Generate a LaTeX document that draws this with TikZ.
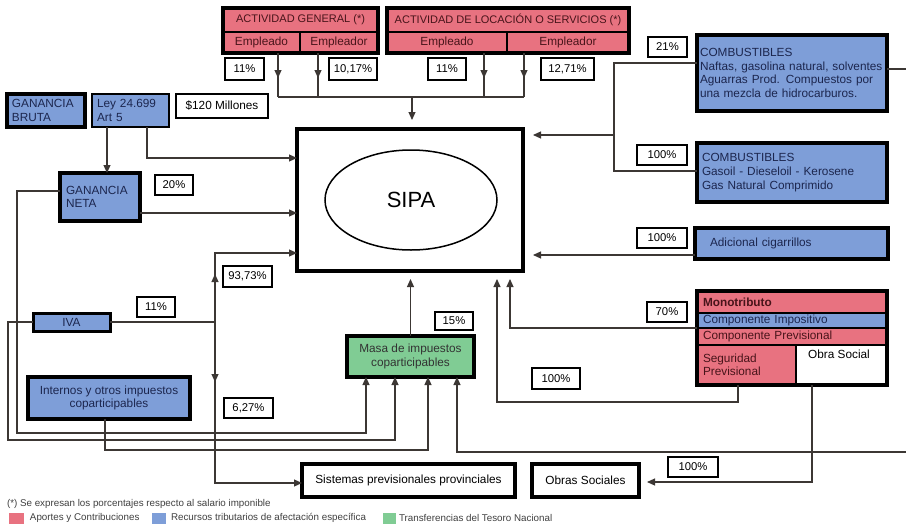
\documentclass[tikz,border=0pt]{standalone}
\usepackage{fontspec}
\setmainfont{Liberation Sans}
\usetikzlibrary{arrows.meta,shapes.geometric,decorations.markings}
\definecolor{pinkc}{RGB}{232,114,128}
\definecolor{bluec}{RGB}{126,158,216}
\definecolor{greenc}{RGB}{128,204,148}
\definecolor{linec}{RGB}{60,55,52}
\definecolor{navytxt}{RGB}{28,38,78}
\definecolor{redtxt}{RGB}{72,20,26}
\begin{document}
\begin{tikzpicture}[x=1pt,y=-1pt,
  every node/.style={font=\fontsize{11.8}{13.5}\selectfont, inner sep=0pt, outer sep=0pt},
  heavybox/.style={draw=black, line width=3.5pt, rectangle},
  lightbox/.style={draw=black, line width=1.6pt, rectangle},
  sep/.style={draw=black, line width=1.4pt},
  pct/.style={draw=black, line width=1.8pt, fill=white, rectangle, font=\fontsize{11.3}{13}\selectfont},
  conn/.style={draw=linec, line width=1.15pt},
  arr/.style={conn, -{Triangle[length=8pt,width=7pt]}},
  midtip/.style={postaction={decorate}, decoration={markings, mark=at position #1 with {\arrow{Triangle[length=8pt,width=7pt]}}}},
  pinkcell/.style={fill=pinkc, text=redtxt},
  bluecell/.style={fill=bluec, text=navytxt},
]
\useasboundingbox (0,0) rectangle (906,523);
\fill[white] (0,0) rectangle (906,523);

% ---------- top boxes ----------
\node[pinkcell, minimum width=155, minimum height=24, font=\fontsize{11}{13}\selectfont] (agh) at (300.5,20) {ACTIVIDAD GENERAL (*)};
\node[pinkcell, minimum width=77, minimum height=21] (age) at (261.5,42.5) {Empleado};
\node[pinkcell, minimum width=78, minimum height=21] (agr) at (339,42.5) {Empleador};
\draw[sep] (agh.south west) -- (agh.south east);
\draw[sep] (age.north east) -- (age.south east);
\draw[heavybox] (agh.north west) rectangle (agr.south east);

\node[pinkcell, minimum width=242, minimum height=24, font=\fontsize{11}{13}\selectfont] (alh) at (508,20) {ACTIVIDAD DE LOCACIÓN O SERVICIOS (*)};
\node[pinkcell, minimum width=120, minimum height=21] (ale) at (447,42.5) {Empleado};
\node[pinkcell, minimum width=122, minimum height=21] (alr) at (568,42.5) {Empleador};
\draw[sep] (alh.south west) -- (alh.south east);
\draw[sep] (ale.north east) -- (ale.south east);
\draw[heavybox] (alh.north west) rectangle (alr.south east);

\node[pct, minimum width=39, minimum height=22] (p1) at (244.5,69) {11\%};
\node[pct, minimum width=48, minimum height=22] (p2) at (353,69) {10,17\%};
\node[pct, minimum width=38, minimum height=22] (p3) at (447,69) {11\%};
\node[pct, minimum width=53, minimum height=22] (p4) at (567.5,69) {12,71\%};

% ---------- SIPA ----------
\node[heavybox, minimum width=226, minimum height=142] (sipa) at (410,200) {};
\node[draw=black, line width=1.5pt, ellipse, minimum width=172, minimum height=100, font=\fontsize{22}{26}\selectfont] (ell) at (411,200) {SIPA};

% ---------- left side ----------
\node[heavybox, bluecell, minimum width=78, minimum height=33, text width=68, align=left] (gb) at (46,110.5) {GANANCIA\\BRUTA};
\node[lightbox, bluecell, minimum width=77, minimum height=33, text width=67, align=left] (ley) at (130.5,110.5) {Ley 24.699\\Art 5};
\node[lightbox, line width=2pt, minimum width=92, minimum height=24] (mill) at (222,106) {\$120 Millones};
\node[heavybox, bluecell, minimum width=80, minimum height=48, text width=68, align=left] (gn) at (100,197) {GANANCIA\\NETA};
\node[pct, minimum width=38, minimum height=20] (p20) at (174,185) {20\%};
\node[heavybox, line width=3pt, bluecell, minimum width=77, minimum height=18] (iva) at (71.5,322) {IVA};
\node[pct, minimum width=38, minimum height=20] (p11b) at (156,307) {11\%};
\node[pct, minimum width=49, minimum height=21] (p9373) at (247.5,276.5) {93,73\%};
\node[pct, minimum width=49, minimum height=20] (p627) at (248.5,408) {6,27\%};
\node[heavybox, bluecell, minimum width=162, minimum height=42, align=center] (int) at (109,398) {Internos y otros impuestos\\coparticipables};

% ---------- centre bottom ----------
\node[heavybox, fill=greenc, text=black!80, minimum width=127, minimum height=41, align=center] (masa) at (410.5,356.5) {Masa de impuestos\\coparticipables};
\node[pct, minimum width=38, minimum height=18] (p15) at (454,321) {15\%};
\node[heavybox, minimum width=213, minimum height=33] (sist) at (408.5,480.5) {Sistemas previsionales provinciales};
\node[heavybox, minimum width=107, minimum height=33] (obras) at (585.5,480.5) {Obras Sociales};
\node[pct, minimum width=50, minimum height=20] (p100c) at (693,467) {100\%};

% ---------- right side ----------
\node[heavybox, bluecell, minimum width=190, minimum height=76, text width=184, align=left, font=\fontsize{11.8}{13.8}\selectfont] (c1) at (792,73) {COMBUSTIBLES\\Naftas, gasolina natural, solventes\\Aguarras Prod. Compuestos por\\una mezcla de hidrocarburos.};
\node[pct, minimum width=39, minimum height=20] (p21) at (667.5,47) {21\%};
\node[heavybox, bluecell, minimum width=190, minimum height=59, text width=180, align=left, font=\fontsize{11.8}{13.8}\selectfont] (c2) at (792,172.5) {COMBUSTIBLES\\Gasoil - Dieseloil - Kerosene\\Gas Natural Comprimido};
\node[pct, minimum width=50, minimum height=20] (p100a) at (662,155) {100\%};
\node[heavybox, bluecell, minimum width=193, minimum height=31, text width=163, align=left] (adic) at (791.5,243.5) {Adicional cigarrillos};
\node[pct, minimum width=50, minimum height=20] (p100b) at (662,238) {100\%};

% Monotributo
\node[pinkcell, minimum width=190, minimum height=22, text width=178, align=left] (monoh) at (792,302) {\textbf{Monotributo}};
\node[bluecell, minimum width=190, minimum height=15, text width=178, align=left] (monoi) at (792,320.5) {Componente Impositivo};
\node[pinkcell, minimum width=190, minimum height=17, text width=178, align=left] (monop) at (792,336.5) {Componente Previsional};
\node[pinkcell, minimum width=99, minimum height=40, text width=87, align=left] (monos) at (746.5,365) {Seguridad\\Previsional};
\node[fill=white, minimum width=91, minimum height=40] (monoo) at (841.5,365) {};
\node[anchor=north] (monoot) at (839,350) {Obra Social};
\draw[sep, line width=1.1pt] (monoh.south west) -- (monoh.south east);
\draw[sep, line width=1.1pt] (monoi.south west) -- (monoi.south east);
\draw[sep, line width=2pt] (monop.south west) -- (monop.south east);
\draw[sep, line width=2pt] (monos.north east) -- (monos.south east);
\draw[heavybox] (monoh.north west) rectangle (monoo.south east);
\node[pct, minimum width=40, minimum height=20] (p70) at (667,312) {70\%};
\node[pct, minimum width=48, minimum height=21] (p100d) at (556,378.5) {100\%};

% ---------- connectors: top ----------
\coordinate (bus1) at (278,97);
\coordinate (bus2) at (318,97);
\coordinate (bus3) at (484,97);
\coordinate (bus4) at (524,97);
\coordinate (busm) at (412,97);
\draw[conn, midtip=25pt] (age.south -| bus1) -- (bus1);
\draw[conn, midtip=25pt] (agr.south -| bus2) -- (bus2);
\draw[conn, midtip=25pt] (ale.south -| bus3) -- (bus3);
\draw[conn, midtip=25pt] (alr.south -| bus4) -- (bus4);
\draw[conn] (bus1) -- (bus4);
\draw[arr, shorten >=9pt] (busm) -- (sipa.north -| busm);

% ---------- connectors: left ----------
\coordinate (lx) at (107,127);
\draw[arr] (ley.south -| lx) -- (gn.north -| lx);
\coordinate (lc) at (147,158);
\draw[arr] (ley.south -| lc) -- (lc) -- (sipa.west |- lc);
\coordinate (gy) at (200,213);
\draw[arr] (gn.east |- gy) -- (sipa.west |- gy);
\coordinate (g1) at (17,191);
\coordinate (g2) at (17,433);
\coordinate (g3) at (366,433);
\draw[arr] (gn.west |- g1) -- (g1) -- (g2) -- (g3) -- (masa.south -| g3);
\coordinate (i1) at (8,322);
\coordinate (i2) at (8,440);
\coordinate (i3) at (395,440);
\draw[arr] (iva.west) -- (i1) -- (i2) -- (i3) -- (masa.south -| i3);
\coordinate (n1) at (105,450);
\coordinate (n2) at (428,450);
\draw[arr] (int.south -| n1) -- (n1) -- (n2) -- (masa.south -| n2);
\coordinate (v) at (215,322);
\coordinate (vt) at (215,253);
\coordinate (vb) at (215,483);
\draw[conn] (iva.east) -- (v);
\draw[arr, midtip=48pt] (v) -- (vt) -- (sipa.west |- vt);
\draw[arr, midtip=60pt] (v) -- (vb) -- (sist.west |- vb);
\draw[arr, shorten >=8pt] (masa.north) -- (sipa.south -| masa.north);

% ---------- connectors: right ----------
\coordinate (cj) at (614,63);
\coordinate (cb) at (614,171);
\coordinate (cm) at (614,135);
\draw[conn] (c1.west |- cj) -- (cj) -- (cb) -- (c2.west |- cb);
\draw[arr, shorten >=10pt] (cm) -- (sipa.east |- cm);
\coordinate (ady) at (650,255);
\draw[arr, shorten >=10pt] (adic.west |- ady) -- (sipa.east |- ady);
\coordinate (mp) at (510,328);
\draw[arr, shorten >=8pt] (monoi.south west) -- (mp) -- (sipa.south -| mp);
\coordinate (sp) at (738,402);
\coordinate (sp2) at (497,402);
\draw[arr, shorten >=8pt] (monos.south -| sp) -- (sp) -- (sp2) -- (sipa.south -| sp2);
\coordinate (os) at (812,482);
\draw[arr, shorten >=8pt] (monoo.south -| os) -- (os) -- (obras.east |- os);
\coordinate (r1) at (930,69);
\coordinate (r2) at (930,452);
\coordinate (r3) at (457,452);
\draw[arr] (c1.east |- r1) -- (r1) -- (r2) -- (r3) -- (masa.south -| r3);

% ---------- legend ----------
\node[anchor=west, text=black!75, font=\fontsize{9.8}{11}\selectfont] (note) at (7,504) {(*) Se expresan los porcentajes respecto al salario imponible};
\node[fill=pinkc, minimum width=15, minimum height=11] (lg1) at (16.5,518) {};
\node[anchor=west, text=black!75, font=\fontsize{9.8}{11}\selectfont] (lt1) at (30,518) {Aportes y Contribuciones};
\node[fill=bluec, minimum width=14, minimum height=11] (lg2) at (159,518) {};
\node[anchor=west, text=black!75, font=\fontsize{9.8}{11}\selectfont] (lt2) at (171,518) {Recursos tributarios de afectación específica};
\node[fill=greenc, minimum width=13, minimum height=11] (lg3) at (389.5,518) {};
\node[anchor=west, text=black!75, font=\fontsize{9.8}{11}\selectfont] (lt3) at (399,518) {Transferencias del Tesoro Nacional};
\end{tikzpicture}
\end{document}
